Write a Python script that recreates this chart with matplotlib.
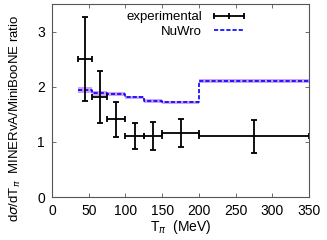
import matplotlib.pyplot as plt
import numpy as np
from matplotlib.lines import Line2D

plt.rcParams['font.family'] = ['Liberation Sans', 'DejaVu Sans']

# bins in pion kinetic energy (MeV)
bin_lo = [35, 55, 75, 100, 125, 150, 200]
bin_hi = [55, 75, 100, 125, 150, 200, 350]
exp_x = [45, 65, 87.5, 112.5, 137.5, 175, 275]
exp_ratio = [2.51, 1.82, 1.41, 1.11, 1.11, 1.16, 1.10]
exp_err = [0.76, 0.47, 0.32, 0.24, 0.25, 0.25, 0.30]
nuwro_ratio = [1.94, 1.88, 1.87, 1.81, 1.74, 1.72, 2.10]
nuwro_err = [0.05, 0.04, 0.03, 0.03, 0.03, 0.03, 0.04]

exp_x = np.array(exp_x)
xerr = [exp_x - np.array(bin_lo), np.array(bin_hi) - exp_x]

fig = plt.figure(figsize=(3.27, 2.4), dpi=100)
ax = fig.add_axes([0.159, 0.179, 0.786, 0.804])

edges = bin_lo + [bin_hi[-1]]
nw = np.array(nuwro_ratio + [nuwro_ratio[-1]])
ne = np.array(nuwro_err + [nuwro_err[-1]])
ax.fill_between(edges, nw - ne, nw + ne, step="post", color="#c98cf0", alpha=0.8, lw=0)
ax.step(edges, nw, where="post", color="blue", lw=1.2, ls=(0, (2.5, 1.2)))

ax.errorbar(exp_x, exp_ratio, yerr=exp_err, xerr=xerr, fmt="none", ecolor="black",
            elinewidth=1.3, capsize=2, capthick=1.3)

h_exp = Line2D([], [], color="black", lw=1.3, marker="|", markersize=4, markeredgewidth=1.3)
h_nw = Line2D([], [], color="blue", lw=1.2, ls=(0, (2.5, 1.2)))
ax.legend([h_exp, h_nw], ["experimental", "NuWro"], loc="upper right",
          bbox_to_anchor=(0.81, 1.025), frameon=False, markerfirst=False,
          numpoints=3, fontsize=9.5, handlelength=2.9, labelspacing=0.15,
          handletextpad=0.6)

ax.set_xlim(0, 350)
ax.set_ylim(0, 3.5)
ax.set_xticks(range(0, 351, 50))
ax.set_yticks([0, 1, 2, 3])
ax.tick_params(direction="in", top=True, right=True, labelsize=10, length=3,
               width=0.6, color="#555555", pad=5)
for s in ax.spines.values():
    s.set_color("#555555")
    s.set_linewidth(0.8)

ax.set_xlabel(r"T$_\pi$  (MeV)", fontsize=10, labelpad=0)
fig.text(0.046, 0.508, r"d$\sigma$/dT$_\pi$  MINERvA/MiniBooNE ratio", fontsize=9.5,
         rotation=90, ha="center", va="center")

fig.savefig("out.png", dpi=100)
